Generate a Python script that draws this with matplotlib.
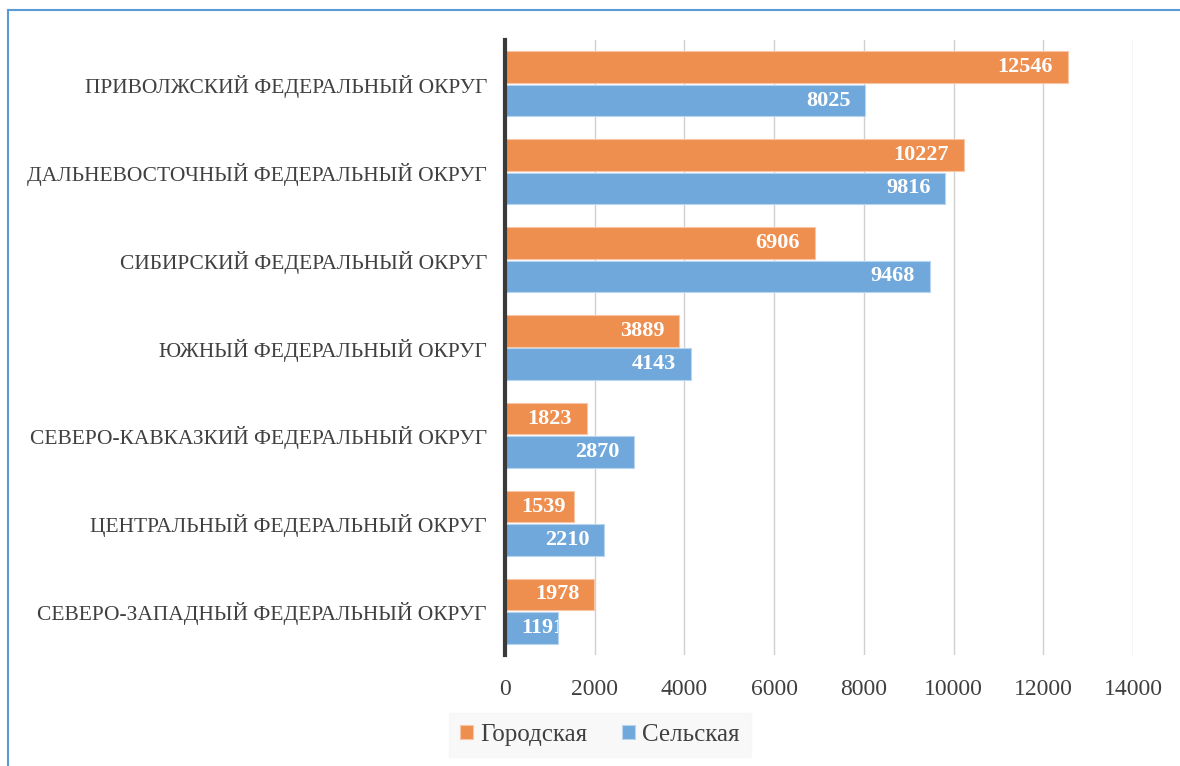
import numpy as np
import matplotlib.pyplot as plt
from matplotlib.lines import Line2D

# ========== DONNÉES ==========
okruga = [
    'СЕВЕРО-ЗАПАДНЫЙ ФЕДЕРАЛЬНЫЙ ОКРУГ',
    'ЦЕНТРАЛЬНЫЙ ФЕДЕРАЛЬНЫЙ ОКРУГ',
    'СЕВЕРО-КАВКАЗКИЙ ФЕДЕРАЛЬНЫЙ ОКРУГ',
    'ЮЖНЫЙ ФЕДЕРАЛЬНЫЙ ОКРУГ',
    'СИБИРСКИЙ ФЕДЕРАЛЬНЫЙ ОКРУГ',
    'ДАЛЬНЕВОСТОЧНЫЙ ФЕДЕРАЛЬНЫЙ ОКРУГ',
    'ПРИВОЛЖСКИЙ ФЕДЕРАЛЬНЫЙ ОКРУГ',
]
gorodskaya = [1978, 1539, 1823, 3889, 6906, 10227, 12546]
selskaya = [1191, 2210, 2870, 4143, 9468, 9816, 8025]
x_ticks = [0, 2000, 4000, 6000, 8000, 10000, 12000, 14000]

c_orange = '#EE8E4F'
c_blue = '#70A8DB'
txt = '#404040'

plt.rcParams['font.family'] = ['Liberation Serif', 'DejaVu Serif']

fig = plt.figure(figsize=(11.8, 7.66), dpi=100)
ax = fig.add_axes([505/1180, 1 - 655/766, 628/1180, 615/766])

y = np.arange(len(okruga))
h = 0.36
b1 = ax.barh(y + h/2 + 0.01, gorodskaya, height=h, color=c_orange,
             edgecolor='#F6C6A6', linewidth=0.8, label='Городская', zorder=3)
b2 = ax.barh(y - h/2 - 0.01, selskaya, height=h, color=c_blue,
             edgecolor='#B8D4EE', linewidth=0.8, label='Сельская', zorder=3)

# étiquettes à l'intérieur, coupées au bout de la barre
labels = []
for bars, vals in ((b1, gorodskaya), (b2, selskaya)):
    for rect, v in zip(bars, vals):
        t = ax.annotate(str(v), (v, rect.get_y() + rect.get_height()/2),
                        xytext=(-10.5, 0), textcoords='offset points',
                        ha='right', va='center', color='white',
                        fontweight='bold', fontsize=16, zorder=4)
        t.set_clip_path(rect)
        labels.append(t)

ax.set_xlim(0, 14000)
ax.set_ylim(-0.5, 6.5)
ax.set_xticks(x_ticks)
ax.set_xticklabels([str(v) for v in x_ticks], fontsize=17, color=txt)
ax.set_yticks(y)
ax.set_yticklabels(okruga, fontsize=15.5, color=txt)
ax.tick_params(axis='both', length=0)
ax.tick_params(axis='x', pad=17)
ax.tick_params(axis='y', pad=13)

ax.grid(axis='x', color='#D0D0D0', linewidth=1, zorder=0)
for s in ['top', 'right', 'bottom']:
    ax.spines[s].set_visible(False)
ax.spines['left'].set_color('#3A3A3A')
ax.spines['left'].set_linewidth(3)
ax.spines['left'].set_zorder(5)

# étiquette trop longue pour la barre : alignée à gauche, coupée à droite
fig.canvas.draw()
x0 = ax.transData.transform((0, 0))[0]
for t in labels:
    bb = t.get_window_extent()
    if bb.x0 < x0 + 16:
        t.xy = (0, t.xy[1])
        t.xyann = (12, 0)
        t.set_ha('left')

leg = fig.legend(loc='center', bbox_to_anchor=(600/1180, 1 - 735/766),
                 ncol=2, frameon=True, fontsize=18, handlelength=0.5,
                 handleheight=0.5, handletextpad=0.3, columnspacing=1.4,
                 borderpad=0.45)
leg.get_frame().set_facecolor('#F7F7F7')
leg.get_frame().set_edgecolor('#F7F7F7')
leg.get_frame().set_boxstyle('square', pad=0.0)
for t in leg.get_texts():
    t.set_color(txt)

# cadre bleu
fig.add_artist(Line2D([8/1180, 8/1180], [0, 1 - 10/766], color='#5B9BD5', linewidth=1.5))
fig.add_artist(Line2D([8/1180, 1], [1 - 10/766, 1 - 10/766], color='#5B9BD5', linewidth=1.5))

fig.savefig('out.png', dpi=100)
